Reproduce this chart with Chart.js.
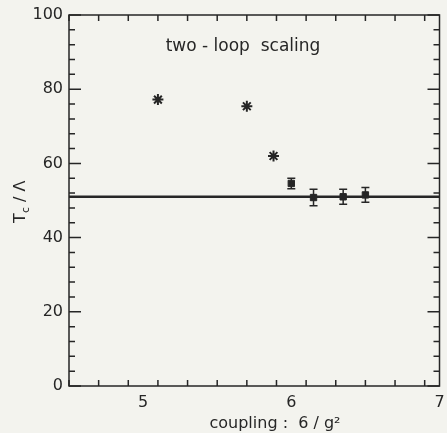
<!DOCTYPE html>
<html><head><meta charset="utf-8">
<script src="https://cdn.jsdelivr.net/npm/chart.js@4.4.0/dist/chart.umd.min.js"></script>
<style>html,body{margin:0;padding:0;background:#f3f3ee;}#wrap{width:447px;height:433px;}</style>
</head><body><div id="wrap"><canvas id="c" width="447" height="433"></canvas></div>
<script>
// ---- data ----
const starX = [5.1, 5.7, 5.88];
const starY = [77.2, 75.4, 62.0];
const errX = [6.0, 6.15, 6.35, 6.5];
const errY = [54.6, 50.8, 51.0, 51.5];
const errDY = [1.4, 2.2, 2.0, 2.0];
const fitLevel = 51;
const xRange = [4.5, 7];
const yRange = [0, 100];
const xTickLabels = [5, 6, 7];
const yTickLabels = [0, 20, 40, 60, 80, 100];
const xMinorStep = 0.2;
const yMinorStep = 4;
const titleText = 'two - loop  scaling';
const xTitle = 'coupling :  6 / g²';
const yTitle = 'T';
const ink = '#262626';

const ticksPlugin = {
  id: 'ticksPlugin',
  afterDatasetsDraw(chart) {
    const {ctx, chartArea: a, scales: {x, y}} = chart;
    ctx.save();
    ctx.strokeStyle = ink; ctx.lineWidth = 1.5;
    ctx.strokeRect(a.left, a.top, a.right - a.left, a.bottom - a.top);
    ctx.beginPath();
    for (let v = xRange[0]; v <= xRange[1] + 1e-9; v += xMinorStep) {
      const major = Math.abs(v - Math.round(v)) < 1e-6;
      const px = x.getPixelForValue(v);
      const L = major ? 12 : 6;
      ctx.moveTo(px, a.bottom); ctx.lineTo(px, a.bottom - L);
      ctx.moveTo(px, a.top); ctx.lineTo(px, a.top + L);
    }
    for (let v = yRange[0]; v <= yRange[1] + 1e-9; v += yMinorStep) {
      const major = Math.abs(v / 20 - Math.round(v / 20)) < 1e-6;
      const py = y.getPixelForValue(v);
      const L = major ? 12 : 6;
      ctx.moveTo(a.left, py); ctx.lineTo(a.left + L, py);
      ctx.moveTo(a.right, py); ctx.lineTo(a.right - L, py);
    }
    ctx.stroke();
    // error bars
    ctx.lineWidth = 1.5;
    ctx.beginPath();
    errX.forEach((xv, i) => {
      const px = x.getPixelForValue(xv);
      const p1 = y.getPixelForValue(errY[i] - errDY[i]);
      const p2 = y.getPixelForValue(errY[i] + errDY[i]);
      ctx.moveTo(px, p1); ctx.lineTo(px, p2);
      ctx.moveTo(px - 4, p1); ctx.lineTo(px + 4, p1);
      ctx.moveTo(px - 4, p2); ctx.lineTo(px + 4, p2);
    });
    ctx.stroke();
    // texts
    ctx.fillStyle = ink;
    ctx.font = '17px "DejaVu Sans", sans-serif';
    ctx.textAlign = 'center'; ctx.textBaseline = 'middle';
    ctx.fillText(titleText, 243, 47);
    ctx.font = '16px "DejaVu Sans", sans-serif';
    ctx.fillText(xTitle, 275, 424);
    ctx.translate(21, 205);
    ctx.rotate(-Math.PI / 2);
    ctx.textAlign = 'left';
    ctx.fillText(yTitle, -18, 0);
    ctx.font = '11px "DejaVu Sans", sans-serif';
    ctx.fillText('c', -8, 5);
    ctx.font = '16px "DejaVu Sans", sans-serif';
    ctx.fillText(' / Λ', -2, 0);
    ctx.restore();
  }
};

new Chart(document.getElementById('c'), {
  type: 'scatter',
  data: {
    datasets: [
      { type: 'line', data: xRange.map(v => ({x: v, y: fitLevel})), borderColor: ink, borderWidth: 2.5, pointRadius: 0, fill: false },
      { data: starX.map((v, i) => ({x: v, y: starY[i]})), pointStyle: 'star', pointRadius: 5.5, borderColor: ink, borderWidth: 2, backgroundColor: ink },
      { data: errX.map((v, i) => ({x: v, y: errY[i]})), pointStyle: 'rect', pointRadius: 4.5, borderColor: ink, borderWidth: 1, backgroundColor: ink }
    ]
  },
  options: {
    responsive: false, animation: false, events: [],
    layout: { padding: { left: 0, right: 3, top: 15, bottom: 0 } },
    plugins: { legend: { display: false }, tooltip: { enabled: false } },
    scales: {
      x: {
        type: 'linear', min: xRange[0], max: xRange[1],
        afterBuildTicks: s => { s.ticks = xTickLabels.map(v => ({value: v})); },
        afterFit: s => { s.height = 47; s.paddingRight = 0; s.paddingLeft = 0; },
        grid: { display: false, drawTicks: false }, border: { display: false },
        ticks: { color: ink, font: { family: 'DejaVu Sans', size: 16 }, padding: 7, maxRotation: 0 }
      },
      y: {
        min: yRange[0], max: yRange[1],
        afterBuildTicks: s => { s.ticks = yTickLabels.map(v => ({value: v})); },
        afterFit: s => { s.width = 69; s.paddingTop = 0; s.paddingBottom = 0; },
        grid: { display: false, drawTicks: false }, border: { display: false },
        ticks: { color: ink, font: { family: 'DejaVu Sans', size: 16 }, padding: 6 }
      }
    }
  },
  plugins: [ticksPlugin]
});
</script></body></html>
